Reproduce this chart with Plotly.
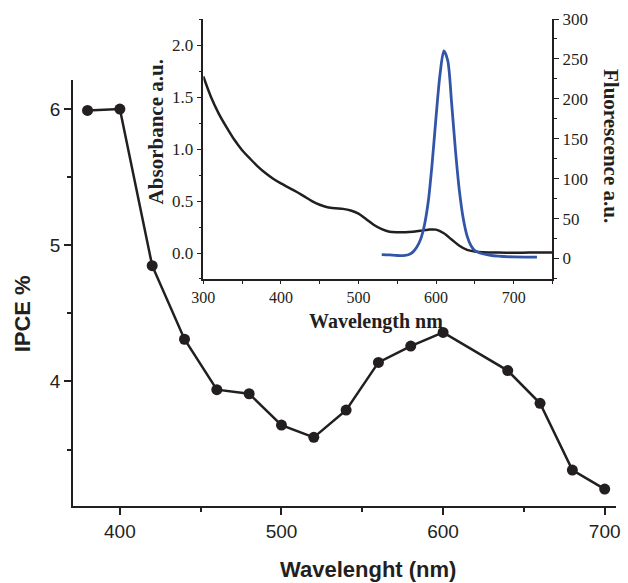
import plotly.graph_objects as go

# Main IPCE data
ipce_wl = [380, 400, 420, 440, 460, 480, 500, 520, 540, 560, 580, 600, 640, 660, 680, 700]
ipce_val = [5.99, 6.00, 4.85, 4.31, 3.94, 3.91, 3.68, 3.59, 3.79, 4.14, 4.26, 4.36, 4.08, 3.84, 3.35, 3.21]

# Inset: absorbance
abs_wl = [300, 310, 320, 330, 340, 350, 360, 370, 380, 390, 400, 410, 420, 430, 440, 450,
          460, 470, 480, 490, 500, 510, 520, 530, 540, 550, 560, 570, 580, 590, 600, 610,
          620, 630, 640, 650, 660, 680, 700, 720, 750]
abs_val = [1.70, 1.50, 1.34, 1.21, 1.09, 0.99, 0.91, 0.835, 0.77, 0.715, 0.67, 0.63, 0.59, 0.545,
           0.50, 0.465, 0.44, 0.43, 0.425, 0.41, 0.38, 0.325, 0.27, 0.23, 0.205, 0.20, 0.20,
           0.205, 0.215, 0.225, 0.225, 0.19, 0.13, 0.07, 0.03, 0.015, 0.008, 0.004, 0.003,
           0.004, 0.005]

# Inset: fluorescence
fl_wl = [530, 540, 550, 560, 565, 570, 575, 580, 585, 590, 595, 600, 605, 610, 615, 620,
         625, 630, 635, 640, 645, 650, 660, 670, 680, 700, 720, 730]
fl_val = [5, 4.5, 3.8, 4, 5, 8, 14, 24, 42, 72, 120, 178, 230, 260, 248, 195,
          135, 85, 50, 28, 16, 10, 6, 4, 3, 2, 1.8, 1.7]

INK = "#231f20"
BLUE = "#3355a8"
SANS = "Liberation Sans, Arial, sans-serif"
SERIF = "Liberation Serif, Times New Roman, serif"

fig = go.Figure()
fig.add_trace(go.Scatter(x=ipce_wl, y=ipce_val, mode="lines+markers",
                         line=dict(color=INK, width=2.5),
                         marker=dict(color=INK, size=11),
                         xaxis="x", yaxis="y", showlegend=False))
fig.add_trace(go.Scatter(x=abs_wl, y=abs_val, mode="lines", line=dict(color=INK, width=2.5, shape="spline", smoothing=0.8),
                         xaxis="x2", yaxis="y2", showlegend=False))
fig.add_trace(go.Scatter(x=fl_wl, y=fl_val, mode="lines", line=dict(color=BLUE, width=2.8, shape="spline", smoothing=0.8),
                         xaxis="x2", yaxis="y3", showlegend=False))

L, R, T, B = 73, 8, 19, 77
W, H = 628, 583
pw, ph = W - L - R, H - T - B

def px(x):
    return (x - L) / pw

def py(y):
    return (H - B - y) / ph

fig.update_layout(
    width=W, height=H,
    margin=dict(l=L, r=R, t=T, b=B),
    paper_bgcolor="white", plot_bgcolor="rgba(0,0,0,0)",
    xaxis=dict(range=[371, 707], domain=[0, 1], showgrid=False, zeroline=False,
               showline=True, linecolor=INK, linewidth=1.8,
               ticks="outside", ticklen=7, tickwidth=1.5, tickcolor=INK,
               tickvals=[400, 500, 600, 700],
               minor=dict(ticks="outside", ticklen=4, tickwidth=1.5, tickcolor=INK,
                          tickvals=[450, 550, 650]),
               tickfont=dict(family=SANS, size=19, color=INK)),
    yaxis=dict(range=[3.086, 6.213], domain=[0, py(80)], showgrid=False, zeroline=False,
               showline=True, linecolor=INK, linewidth=1.8,
               ticks="outside", ticklen=7, tickwidth=1.5, tickcolor=INK,
               tickvals=[4, 5, 6],
               minor=dict(ticks="outside", ticklen=4, tickwidth=1.5, tickcolor=INK,
                          tickvals=[3.5, 4.5, 5.5]),
               tickfont=dict(family=SANS, size=19, color=INK)),
    xaxis2=dict(range=[300, 750], domain=[px(204.3), px(556)], anchor="y2",
                showgrid=False, zeroline=False, showline=True, linecolor=INK, linewidth=1.5,
                ticks="outside", ticklen=3, tickwidth=1.2, tickcolor=INK,
                tick0=300, dtick=100, ticklabelstandoff=0,
                minor=dict(ticks="outside", ticklen=3, tickwidth=1.2, tickcolor=INK, dtick=50, tick0=300),
                tickfont=dict(family=SERIF, size=16, color=INK)),
    yaxis2=dict(range=[-0.253, 2.253], domain=[py(279.3), 1.0], anchor="x2",
                showgrid=False, zeroline=False, showline=True, linecolor=INK, linewidth=1.5,
                ticks="outside", ticklen=5, tickwidth=1.2, tickcolor=INK,
                tick0=0, dtick=0.5, tickformat=".1f",
                minor=dict(ticks="outside", ticklen=3, tickwidth=1.2, tickcolor=INK, dtick=0.25, tick0=0),
                tickfont=dict(family=SERIF, size=17, color=INK)),
    yaxis3=dict(range=[-26, 300], overlaying="y2", side="right", anchor="x2",
                showgrid=False, zeroline=False, showline=True, linecolor=INK, linewidth=1.5,
                ticks="outside", ticklen=5, tickwidth=1.2, tickcolor=INK,
                tick0=0, dtick=50,
                minor=dict(ticks="outside", ticklen=3, tickwidth=1.2, tickcolor=INK, dtick=25, tick0=0),
                tickfont=dict(family=SERIF, size=17, color=INK)),
    annotations=[
        dict(text="<b>Wavelenght (nm)</b>", x=px(370), y=py(569), xref="paper", yref="paper",
             showarrow=False, xanchor="center", yanchor="middle",
             font=dict(family=SANS, size=22, color=INK)),
        dict(text="<b>IPCE %</b>", x=px(23), y=py(314), xref="paper", yref="paper",
             showarrow=False, xanchor="center", yanchor="middle", textangle=-90,
             font=dict(family=SANS, size=22, color=INK)),
        dict(text="<b>Absorbance a.u.</b>", x=px(157), y=py(132), xref="paper", yref="paper",
             showarrow=False, xanchor="center", yanchor="middle", textangle=-90,
             font=dict(family=SERIF, size=21, color=INK)),
        dict(text="<b>Fluorescence a.u.</b>", x=px(615), y=py(146), xref="paper", yref="paper",
             showarrow=False, xanchor="center", yanchor="middle", textangle=90,
             font=dict(family=SERIF, size=21, color=INK)),
        dict(text="<b>Wavelength nm</b>", x=px(378), y=py(321), xref="paper", yref="paper",
             showarrow=False, xanchor="center", yanchor="middle",
             font=dict(family=SERIF, size=20, color=INK)),
    ],
)

fig.write_html("out.html", config={"displayModeBar": False},
               post_script="document.body.style.margin='0';document.body.style.overflow='hidden';")
